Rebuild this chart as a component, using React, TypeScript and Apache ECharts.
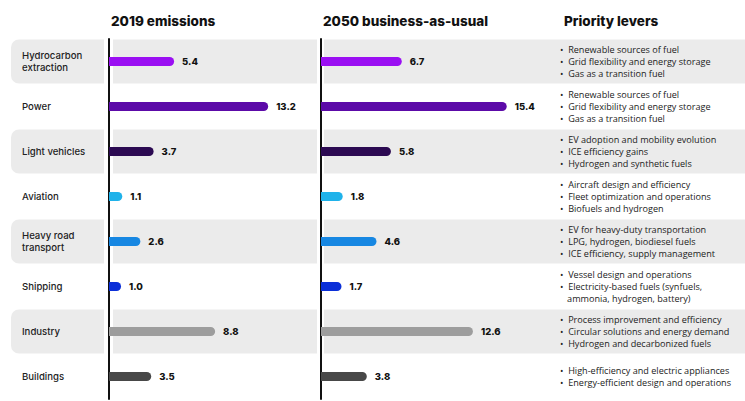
import React, { useEffect, useRef } from "react";
import * as echarts from "echarts";

const categories = [
  "Hydrocarbon\nextraction",
  "Power",
  "Light vehicles",
  "Aviation",
  "Heavy road\ntransport",
  "Shipping",
  "Industry",
  "Buildings",
];
const emissions2019 = [5.4, 13.2, 3.7, 1.1, 2.6, 1.0, 8.8, 3.5];
const emissions2050 = [6.7, 15.4, 5.8, 1.8, 4.6, 1.7, 12.6, 3.8];
const barColors = [
  "#9a0ff2",
  "#5c0aa8",
  "#2c0a52",
  "#1fb2ea",
  "#1787e2",
  "#0b2fd8",
  "#9d9d9d",
  "#484848",
];
const levers = [
  ["Renewable sources of fuel", "Grid flexibility and energy storage", "Gas as a transition fuel"],
  ["Renewable sources of fuel", "Grid flexibility and energy storage", "Gas as a transition fuel"],
  ["EV adoption and mobility evolution", "ICE efficiency gains", "Hydrogen and synthetic fuels"],
  ["Aircraft design and efficiency", "Fleet optimization and operations", "Biofuels and hydrogen"],
  ["EV for heavy-duty transportation", "LPG, hydrogen, biodiesel fuels", "ICE efficiency, supply management"],
  ["Vessel design and operations", "Electricity-based fuels (synfuels,", "  ammonia, hydrogen, battery)"],
  ["Process improvement and efficiency", "Circular solutions and energy demand", "Hydrogen and decarbonized fuels"],
  ["High-efficiency and electric appliances", "Energy-efficient design and operations"],
];
const panelTitles = ["2019 emissions", "2050 business-as-usual", "Priority levers"];
const shadedRows = [0, 2, 4, 6];

const TOP = 39;
const PITCH = 45;
const G1L = 109;
const G2L = 321;
const GW = 205;
const XMAX = 17;

export default function App() {
  const ref = useRef<HTMLDivElement>(null);
  useEffect(() => {
    const chart = echarts.init(ref.current!, null, { renderer: "svg" });
    const font = "Inter, Roboto, sans-serif";
    const bands: any[] = [];
    shadedRows.forEach((r) => {
      const y = TOP + r * PITCH + 0.5;
      const h = PITCH - 1;
      bands.push({
        type: "rect",
        z: -10,
        shape: { x: 11, y, width: 93, height: h, r: [8, 0, 0, 8] },
        style: { fill: "#ebebeb" },
      });
      bands.push({
        type: "rect",
        z: -10,
        shape: { x: 113, y, width: 204, height: h },
        style: { fill: "#ebebeb" },
      });
      bands.push({
        type: "rect",
        z: -10,
        shape: { x: 324, y, width: 421, height: h },
        style: { fill: "#ebebeb" },
      });
    });

    const valueAxis = (gi: number) => ({
      type: "value",
      gridIndex: gi,
      min: 0,
      max: XMAX,
      show: false,
    });
    const catAxis = (gi: number) => ({
      type: "category",
      gridIndex: gi,
      data: categories,
      inverse: true,
      axisLine: { show: true, lineStyle: { color: "#111", width: 2 } },
      axisTick: { show: false },
      axisLabel: { show: false },
    });

    const barSeries = (gi: number, vals: number[]) => ({
      type: "bar",
      xAxisIndex: gi,
      yAxisIndex: gi,
      barWidth: 9,
      data: vals.map((v, i) => ({
        value: v,
        itemStyle: { color: barColors[i], borderRadius: [0, 4.5, 4.5, 0] },
      })),
      label: {
        show: true,
        position: "right",
        distance: 8,
        formatter: (p: any) => Number(p.value).toFixed(1),
        fontFamily: font,
        fontWeight: 800,
        fontSize: 9.5,
        color: "#111",
      },
    });

    chart.setOption({
      animation: false,
      backgroundColor: "#fff",
      title: [
        { text: panelTitles[0], left: 106, top: 9 },
        { text: panelTitles[1], left: 318, top: 9 },
        { text: panelTitles[2], left: 559, top: 9 },
      ].map((t) => ({
        ...t,
        textStyle: { fontFamily: font, fontWeight: 800, fontSize: 13.5, color: "#111" },
      })),
      grid: [
        { left: G1L, top: TOP, width: GW, height: PITCH * 8 },
        { left: G2L, top: TOP, width: GW, height: PITCH * 8 },
      ],
      xAxis: [valueAxis(0), valueAxis(1)],
      yAxis: [
        {
          ...catAxis(0),
          axisLabel: {
            show: true,
            align: "left",
            margin: G1L - 22,
            fontFamily: font,
            fontSize: 9.6,
            fontWeight: 500,
            lineHeight: 12,
            color: "#222",
          },
        },
        catAxis(1),
        {
          type: "category",
          gridIndex: 1,
          data: categories,
          inverse: true,
          position: "right",
          axisLine: { show: false },
          axisTick: { show: false },
          axisLabel: {
            show: true,
            align: "left",
            margin: 560 - (G2L + GW),
            fontFamily: "'Open Sans', sans-serif",
            fontSize: 9.1,
            lineHeight: 12,
            color: "#222",
            formatter: (_v: string, i: number) =>
              levers[i].map((l) => (l.startsWith("  ") ? "   " + l.trim() : "•  " + l)).join("\n"),
          },
        },
      ],
      series: [barSeries(0, emissions2019), barSeries(1, emissions2050)],
      graphic: bands,
    });
    return () => chart.dispose();
  }, []);
  return <div ref={ref} style={{ width: 745, height: 401, position: "absolute", left: 0, top: 0 }} />;
}
